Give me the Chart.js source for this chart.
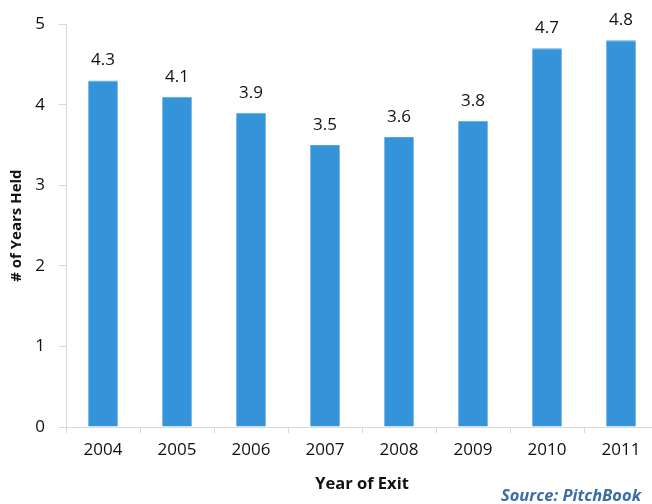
<!DOCTYPE html>
<html>
<head>
<meta charset="utf-8">
<script src="https://cdn.jsdelivr.net/npm/chart.js@4/dist/chart.umd.min.js"></script>
<style>
  html, body { margin: 0; padding: 0; background: #fff; overflow: hidden; }
  #wrap { position: relative; width: 658px; height: 504px; }
</style>
</head>
<body>
<div id="wrap"><canvas id="c" width="658" height="504"></canvas></div>
<script>
// Average holding period of exited companies, by year of exit
const years = ['2004', '2005', '2006', '2007', '2008', '2009', '2010', '2011'];
const yearsHeld = [4.3, 4.1, 3.9, 3.5, 3.6, 3.8, 4.7, 4.8];
const yTicks = [0, 1, 2, 3, 4, 5];

const FONT = '"Open Sans", "Liberation Sans", sans-serif';
const AXIS_GRAY = '#d9d9d9';

// Value labels above each bar, plus the source note in the bottom-right corner
const annotate = {
  id: 'annotate',
  afterDatasetsDraw(chart) {
    const ctx = chart.ctx;
    const meta = chart.getDatasetMeta(0);
    ctx.save();
    ctx.font = '17px ' + FONT;
    ctx.fillStyle = '#111';
    ctx.textAlign = 'center';
    ctx.textBaseline = 'middle';
    meta.data.forEach((bar, i) => {
      ctx.fillText(yearsHeld[i].toFixed(1), bar.x, bar.y - 20);
    });
    ctx.font = 'italic bold 16.5px ' + FONT;
    ctx.fillStyle = '#3b6ea5';
    ctx.textAlign = 'right';
    ctx.fillText('Source: PitchBook', 641, 496);
    ctx.restore();
  }
};

new Chart(document.getElementById('c'), {
  type: 'bar',
  data: {
    labels: years,
    datasets: [{
      data: yearsHeld,
      backgroundColor: '#3493d9',
      borderColor: '#5aa7e0',
      borderWidth: { top: 1, left: 0, right: 0, bottom: 0 },
      borderSkipped: false,
      categoryPercentage: 1,
      barPercentage: 0.4
    }]
  },
  options: {
    responsive: false,
    animation: false,
    events: [],
    layout: { padding: { top: 22, right: 0, bottom: 0, left: 0 } },
    plugins: { legend: { display: false }, tooltip: { enabled: false } },
    scales: {
      x: {
        offset: true,
        grid: { drawOnChartArea: false, drawTicks: true, tickLength: 6, color: AXIS_GRAY, offset: true },
        border: { color: AXIS_GRAY, width: 1 },
        ticks: { color: '#111', font: { family: FONT, size: 17 }, padding: 7, maxRotation: 0 },
        title: { display: true, text: 'Year of Exit', color: '#111', font: { family: FONT, size: 16.5, weight: 'bold' }, padding: { top: 0, bottom: 10 } },
        afterFit(scale) { scale.height = 77; }
      },
      y: {
        min: 0,
        max: 5,
        afterBuildTicks(scale) { scale.ticks = yTicks.map(v => ({ value: v })); },
        grid: { drawOnChartArea: false, drawTicks: true, tickLength: 7, color: AXIS_GRAY },
        border: { color: AXIS_GRAY, width: 1 },
        ticks: { color: '#111', font: { family: FONT, size: 17 }, padding: 14 },
        title: { display: true, text: '# of Years Held', color: '#111', font: { family: FONT, size: 15, weight: 'bold' }, padding: { top: 8, bottom: 0 } },
        afterFit(scale) { scale.width = 66; }
      }
    }
  },
  plugins: [annotate]
});
</script>
</body>
</html>
